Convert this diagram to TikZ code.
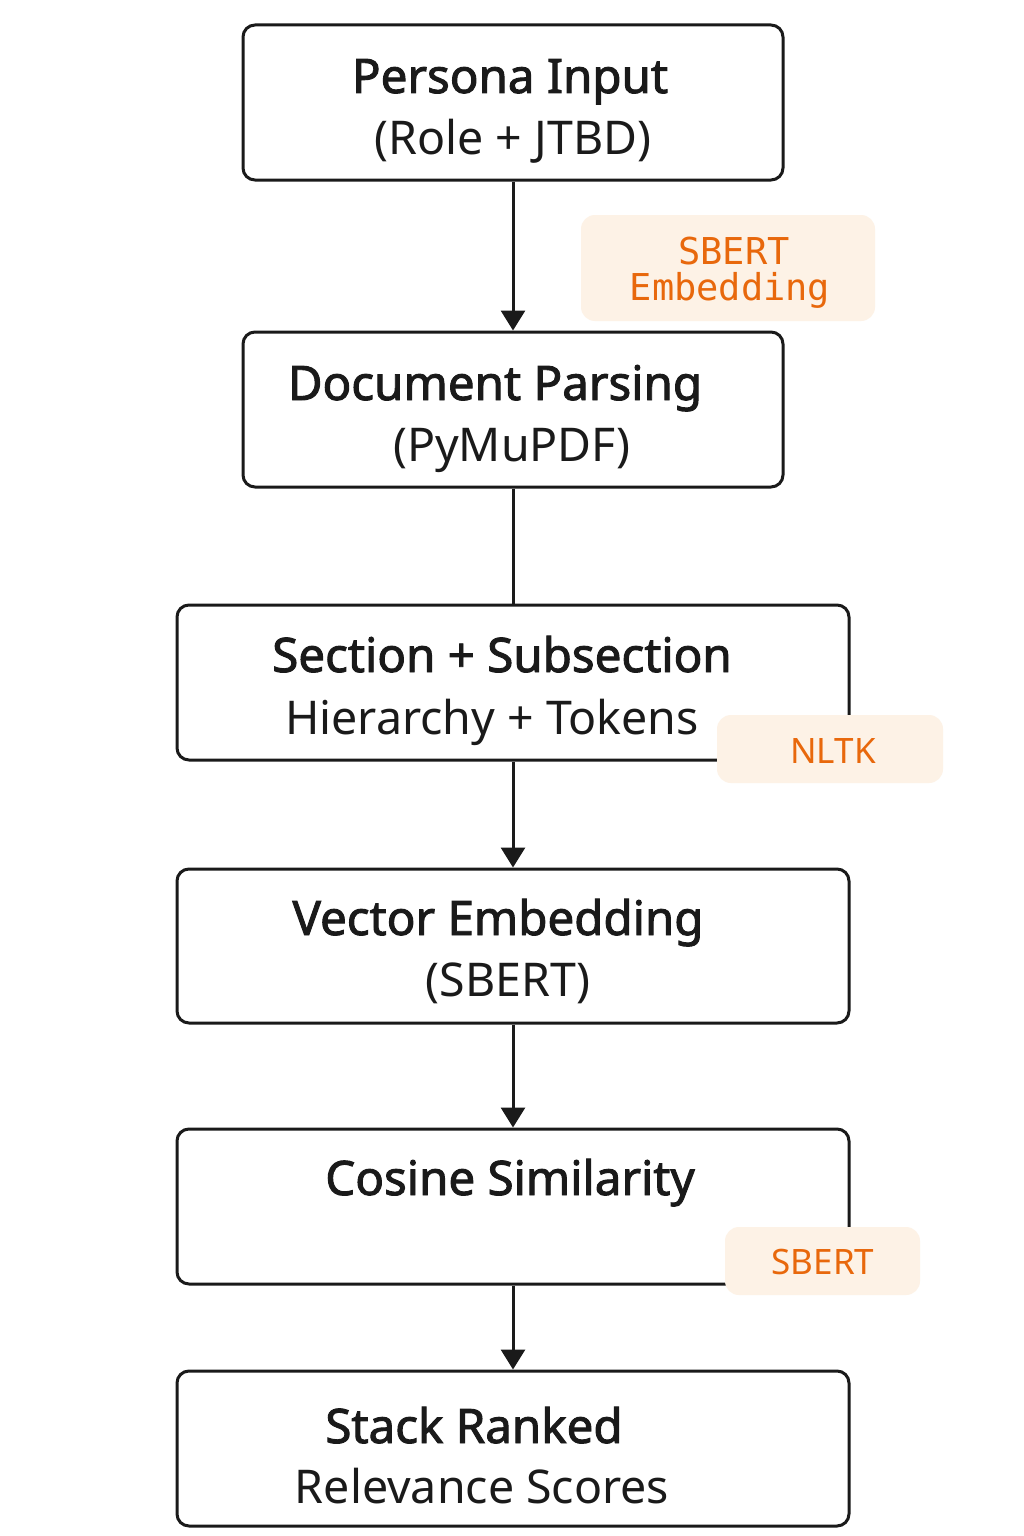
\documentclass[tikz,border=0pt]{standalone}
\usepackage{fontspec}
\setmainfont{Noto Sans}
\setmonofont{DejaVu Sans Mono}
\newfontfamily\medfont{Noto Sans}[FakeBold=2]
\usetikzlibrary{arrows.meta}
\definecolor{ink}{HTML}{1A1A1A}
\definecolor{tagorange}{HTML}{E8680C}
\definecolor{tagfill}{HTML}{FDF2E6}
\tikzset{
  stepbox/.style={draw=ink, line width=3pt, rounded corners=12pt, fill=white, inner sep=0pt},
  tagbox/.style={fill=tagfill, rounded corners=14pt, inner sep=0pt},
  titletext/.style={anchor=base, text=ink, font=\medfont\fontsize{47.5}{54}\selectfont},
  subtext/.style={anchor=base, text=ink, font=\fontsize{46.5}{52}\selectfont},
  tagmono/.style={anchor=base, text=tagorange, font=\ttfamily\fontsize{37}{42}\selectfont},
  tagsans/.style={anchor=base, text=tagorange, font=\fontsize{35}{40}\selectfont},
  flow/.style={draw=ink, line width=3pt, -{Triangle[width=24pt,length=20pt]}},
  plainflow/.style={draw=ink, line width=3pt}
}
\begin{document}
\begin{tikzpicture}[x=1pt,y=-1pt]
\useasboundingbox (0,0) rectangle (1024,1536);
\fill[white] (0,0) rectangle (1024,1536);
% boxes
\node[stepbox, minimum width=540pt, minimum height=155pt] (b1) at (513,102.5) {};
\node[stepbox, minimum width=540pt, minimum height=155pt] (b2) at (513,409.5) {};
\node[stepbox, minimum width=672pt, minimum height=155pt] (b3) at (513,682.5) {};
\node[stepbox, minimum width=672pt, minimum height=154pt] (b4) at (513,946) {};
\node[stepbox, minimum width=672pt, minimum height=155pt] (b5) at (513,1206.5) {};
\node[stepbox, minimum width=672pt, minimum height=155pt] (b6) at (513,1448.5) {};
% connectors
\draw[flow] (b1.south) -- (b2.north);
\draw[plainflow] (b2.south) -- (b3.north);
\draw[flow] (b3.south) -- (b4.north);
\draw[flow] (b4.south) -- (b5.north);
\draw[flow] (b5.south) -- (b6.north);
% texts
\node[titletext] (t1a) at (510,93) {Persona Input};
\node[subtext] (t1b) at (513,154) {(Role + JTBD)};
\node[titletext] (t2a) at (495,400) {Document Parsing};
\node[subtext] (t2b) at (512,461) {(PyMuPDF)};
\node[titletext] (t3a) at (502,672) {Section + Subsection};
\node[subtext] (t3b) at (492,734) {Hierarchy + Tokens};
\node[titletext] (t4a) at (498,935) {Vector Embedding};
\node[subtext] (t4b) at (508,996) {(SBERT)};
\node[titletext] (t5a) at (510,1195) {Cosine Similarity};
\node[titletext] (t6a) at (474,1443) {Stack Ranked};
\node[subtext] (t6b) at (482,1503) {Relevance Scores};
% tags
\node[tagbox, minimum width=294pt, minimum height=106pt] (g1) at (728,268) {};
\node[tagmono] (g1a) at (734,264) {SBERT};
\node[tagmono] (g1b) at (730,300) {Embedding};
\node[tagbox, minimum width=226pt, minimum height=68pt] (g2) at (830,749) {};
\node[tagsans] (g2a) at (833,763) {NLTK};
\node[tagbox, minimum width=195pt, minimum height=68pt] (g3) at (822.5,1261) {};
\node[tagsans] (g3a) at (823,1274) {SBERT};
\end{tikzpicture}
\end{document}
